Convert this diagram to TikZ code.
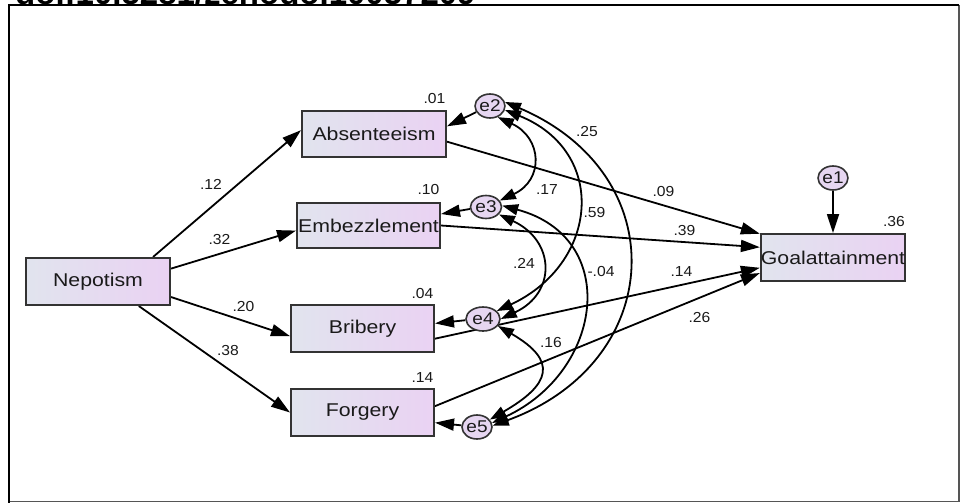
\documentclass[tikz,border=0pt]{standalone}
\usepackage{fontspec}
\setmainfont{Liberation Sans}
\usepackage{graphicx}
\usetikzlibrary{arrows.meta,shapes.geometric,backgrounds}
\definecolor{boxL}{HTML}{E1E4EE}
\definecolor{boxR}{HTML}{EAD2F3}
\definecolor{errfill}{HTML}{E6D6F1}
\definecolor{boxline}{HTML}{333333}
\definecolor{txt}{HTML}{1A1A1A}
\definecolor{framegray}{HTML}{555555}
\newcommand{\boxtxt}[1]{\scalebox{1.15}[1]{#1}}
\newcommand{\lbltxt}[1]{\scalebox{1.08}[1]{#1}}
\newcommand{\errtxt}[1]{\scalebox{1.12}[1]{#1}}
\tikzset{
  varbox/.style={draw=boxline, line width=2pt, left color=boxL, right color=boxR,
    minimum width=143pt, minimum height=46pt, inner sep=0pt, text=txt,
    font=\fontsize{18.5}{20}\selectfont},
  errnode/.style={ellipse, draw=boxline, line width=1.6pt, fill=errfill, inner sep=0pt,
    minimum height=23pt, text=txt, font=\fontsize{17}{18}\selectfont},
  coef/.style={inner sep=0pt, text=txt, font=\fontsize{14.5}{16}\selectfont},
  pathline/.style={-{Triangle[length=19pt,width=12pt]}, line width=1.8pt},
  covline/.style={{Triangle[length=16pt,width=11pt]}-{Triangle[length=16pt,width=11pt]}, line width=1.8pt},
}
\begin{document}
\begin{tikzpicture}[x=1pt,y=1pt]
\useasboundingbox (0,0) rectangle (961,-503);

% observed variables
\node[varbox, minimum width=144pt, minimum height=47pt] (nep) at (98,-281.5) {\boxtxt{Nepotism}};
\node[varbox, minimum width=144pt] (abs) at (374,-134) {\boxtxt{Absenteeism}};
\node[varbox, minimum height=45pt] (emb) at (368.5,-225.5) {\boxtxt{Embezzlement}};
\node[varbox, minimum height=47pt] (bri) at (362.5,-328.5) {\boxtxt{Bribery}};
\node[varbox, minimum height=47pt] (forg) at (362.5,-412.5) {\boxtxt{Forgery}};
\node[varbox, minimum width=142pt, minimum height=47pt] (goal) at (833,-257.5) {\boxtxt{Goalattainment}};

% error terms
\node[errnode, minimum width=26pt, minimum height=24pt] (e1) at (833,-178) {\errtxt{e1}};
\node[errnode, minimum width=28pt, minimum height=24pt] (e2) at (490,-106) {\errtxt{e2}};
\node[errnode, minimum width=31pt] (e3) at (486,-207) {\errtxt{e3}};
\node[errnode, minimum width=34pt, minimum height=24pt] (e4) at (483,-319) {\errtxt{e4}};
\node[errnode, minimum width=30pt, minimum height=24pt] (e5) at (477,-427) {\errtxt{e5}};

\begin{pgfonlayer}{background}
\fill[white] (0,0) rectangle (961,-503);
% regression paths
\draw[pathline] (nep.24) -- (abs.177);
\draw[pathline] (nep.10) -- (emb.184);
\draw[pathline] (nep.-12) -- (bri.186.5);
\draw[pathline] (nep.-31.5) -- (forg.180);
\draw[pathline] (abs.-6) -- (goal.162);
\draw[pathline] (emb.0) -- (goal.172.4);
\draw[pathline] (bri.-8.4) -- (goal.188.4);
\draw[pathline] (forg.5.2) -- (goal.192.3);
\draw[pathline] (e1) -- (goal);
\draw[pathline] (e2.204) -- (abs.6.3);
\draw[pathline] (e3.187) -- (emb.9.9);
\draw[pathline] (e4.184.7) -- (bri.4.4);
\draw[pathline] (e5.174.7) -- (forg.-8.4);
% covariances
\draw[covline] (e2.-55) .. controls +(-25:49) and +(25:49) .. (e3.25);
\draw[covline] (e2.-15) .. controls +(-22:112) and +(25:112) .. (e4.30);
\draw[covline] (e2.15) .. controls +(-23:185) and +(20:185) .. (e5.5);
\draw[covline] (e3.-30) .. controls +(-25:62) and +(25:62) .. (e4.0);
\draw[covline] (e3.5) .. controls +(-15:123) and +(25:123) .. (e5.15);
\draw[covline] (e4.-25) .. controls +(-30:70) and +(30:70) .. (e5.30);
\end{pgfonlayer}

% cropped header text
\node[anchor=base west, inner sep=0pt, font=\bfseries\fontsize{33}{36}\selectfont] (doi) at (15,-5) {doi:10.5281/zenodo.10057209};
% frame
\draw[framegray, line width=1.5pt] (959,-5) -- (959,-501.5) -- (8.5,-501.5);
\draw[black, line width=2pt] (8.5,-503) -- (8.5,-5) -- (959,-5);

% R-squared labels
\node[coef] (r1) at (434.5,-99) {\lbltxt{.01}};
\node[coef] (r2) at (428.5,-190) {\lbltxt{.10}};
\node[coef] (r3) at (422.5,-294) {\lbltxt{.04}};
\node[coef] (r4) at (422.5,-378) {\lbltxt{.14}};
\node[coef] (r5) at (894,-222) {\lbltxt{.36}};
% path coefficients
\node[coef] (p1) at (211,-184) {\lbltxt{.12}};
\node[coef] (p2) at (219.5,-240) {\lbltxt{.32}};
\node[coef] (p3) at (243.5,-307) {\lbltxt{.20}};
\node[coef] (p4) at (228,-351) {\lbltxt{.38}};
\node[coef] (p5) at (663.5,-192) {\lbltxt{.09}};
\node[coef] (p6) at (684.5,-231) {\lbltxt{.39}};
\node[coef] (p7) at (681.5,-272) {\lbltxt{.14}};
\node[coef] (p8) at (699.5,-317.5) {\lbltxt{.26}};
% covariance labels
\node[coef] (c1) at (587,-132) {\lbltxt{.25}};
\node[coef] (c2) at (547,-190) {\lbltxt{.17}};
\node[coef] (c3) at (594.5,-213) {\lbltxt{.59}};
\node[coef] (c4) at (524,-263) {\lbltxt{.24}};
\node[coef] (c5) at (601,-272) {\lbltxt{-.04}};
\node[coef] (c6) at (551,-343) {\lbltxt{.16}};
\end{tikzpicture}
\end{document}
